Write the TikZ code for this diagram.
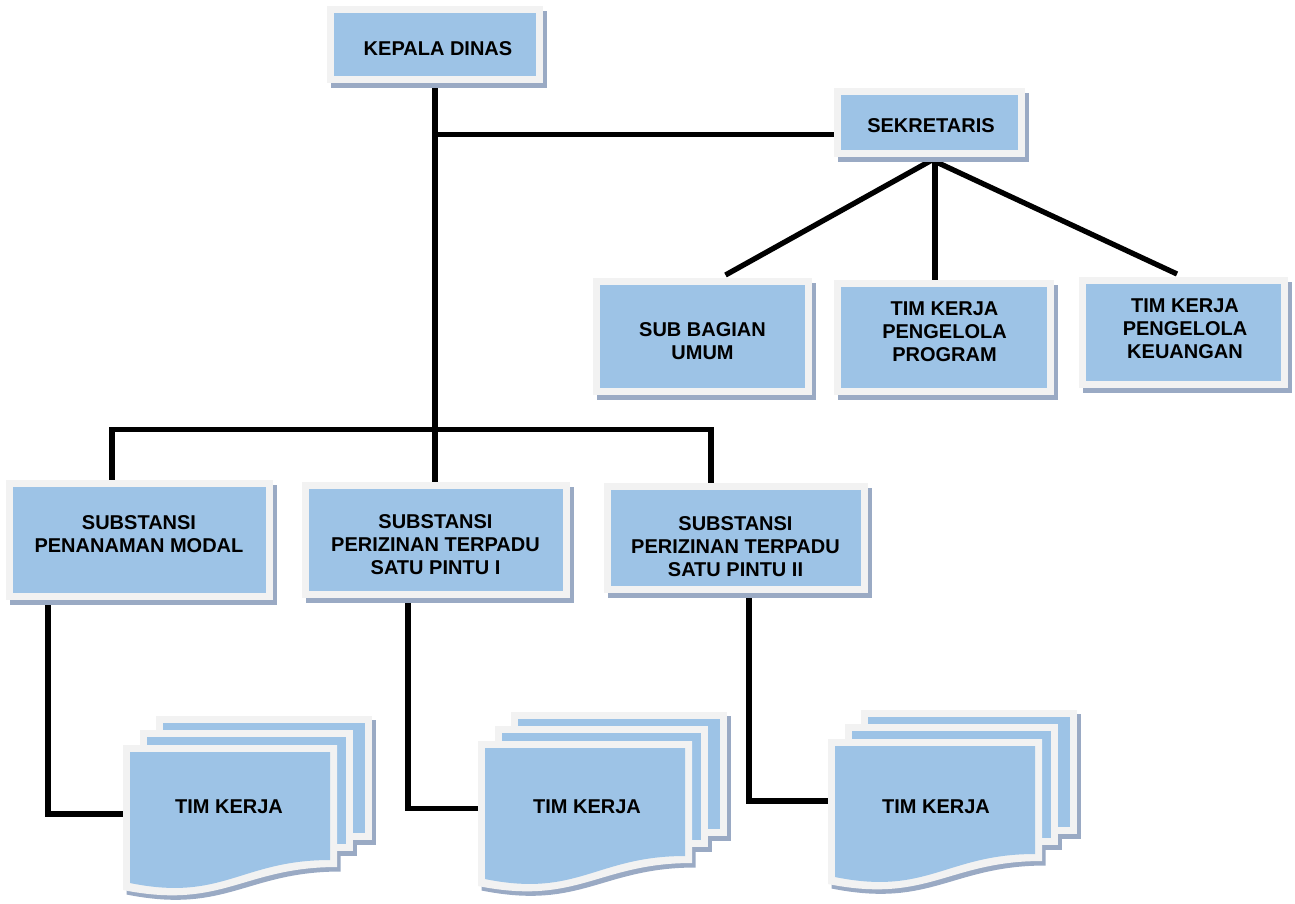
\documentclass[tikz,border=0pt]{standalone}
\usepackage{fontspec}
\setmainfont{Liberation Sans}
\usetikzlibrary{shadows}
\definecolor{bluefill}{HTML}{9DC3E6}
\definecolor{bordergray}{HTML}{F2F2F2}
\definecolor{shadowc}{HTML}{9AAAC4}
\pgfdeclarelayer{background}
\pgfsetlayers{background,main}
\newcommand\TimStack[2]{%
 \begin{scope}[shift={(#1,#2)}]
  \fill[shadowc] (36.5,-25) rectangle (252.5,99.5);
  \fill[shadowc] (20.5,-11) rectangle (233.5,110.5);
  \fill[shadowc] (3.5,4.5) -- (217.5,4.5) -- (217.5,126.5) .. controls (123.5,126.5) and (103.5,169.5) .. (3.5,149.5) -- cycle;
  \fill[bordergray] (33,-29) rectangle (249,95);
  \fill[bluefill] (40,-22) rectangle (242,88);
  \fill[bordergray] (17,-15) rectangle (230,106);
  \fill[bluefill] (24,-8) rectangle (223,99);
  \fill[bordergray] (0,0) -- (214,0) -- (214,122) .. controls (120,122) and (100,165) .. (0,145) -- cycle;
  \fill[bluefill] (7,7) -- (207,7) -- (207,115) .. controls (118,115) and (100,157) .. (7,138) -- cycle;
 \end{scope}}
\begin{document}
\begin{tikzpicture}[x=1pt,y=-1pt,
  box/.style={rectangle, inner sep=0pt, fill=bluefill,
     general shadow={shadow xshift=3.5pt, shadow yshift=-4.5pt, fill=shadowc, draw=shadowc, line width=14pt},
     preaction={draw=bordergray, line width=14pt}},
  txt/.style={font=\fontsize{20}{23}\selectfont\bfseries, align=center, inner sep=0pt, text=black},
  conn/.style={line width=5.3pt, black, line join=miter, line cap=butt}]
\useasboundingbox (0,0) rectangle (1295,903);

% boxes
\node[box, minimum width=202pt, minimum height=63pt] (kd) at (435,44.5) {};
\node[box, minimum width=177pt, minimum height=55pt] (sek) at (929.5,122.5) {};
\node[box, minimum width=205pt, minimum height=103pt] (sb) at (702.5,336.5) {};
\node[box, minimum width=206pt, minimum height=101pt] (pp) at (944,337.5) {};
\node[box, minimum width=195pt, minimum height=97pt] (pk) at (1183.5,332.5) {};
\node[box, minimum width=253pt, minimum height=106pt] (s1) at (139.5,540) {};
\node[box, minimum width=254pt, minimum height=102pt] (s2) at (436,540) {};
\node[box, minimum width=250pt, minimum height=96pt] (s3) at (736,538) {};

% multi-document stacks
\TimStack{123}{745}
\TimStack{478}{741}
\TimStack{828}{739}

% texts
\node[txt] (kd-t) at (438,48.8) {KEPALA DINAS};
\node[txt] (sek-t) at (931,126) {SEKRETARIS};
\node[txt] (sb-t) at (702.5,341.5) {SUB BAGIAN\\UMUM};
\node[txt] (pp-t) at (944.5,332) {TIM KERJA\\PENGELOLA\\PROGRAM};
\node[txt] (pk-t) at (1185,328.3) {TIM KERJA\\PENGELOLA\\KEUANGAN};
\node[txt] (s1-t) at (139,533.8) {SUBSTANSI\\PENANAMAN MODAL};
\node[txt] (s2-t) at (435.5,545) {SUBSTANSI\\PERIZINAN TERPADU\\SATU PINTU I};
\node[txt] (s3-t) at (735.5,547) {SUBSTANSI\\PERIZINAN TERPADU\\SATU PINTU II};
\node[txt] (tk1) at (229,806.7) {TIM KERJA};
\node[txt] (tk2) at (587,806.7) {TIM KERJA};
\node[txt] (tk3) at (936,807) {TIM KERJA};

% connection points
\coordinate (jn) at (932,160);
\coordinate (sb-in) at (725.5,275);
\coordinate (pk-in) at (1177,274);
\coordinate (tk1-in) at (150,814);
\coordinate (tk2-in) at (500,808.3);
\coordinate (tk3-in) at (850,801);

\begin{pgfonlayer}{background}
\draw[conn, line width=6pt] (kd.center -| 435,0) -- (s2.center -| 435,0);
\draw[conn] (435,134.5) -- (sek.center |- 0,134.5);
\draw[conn] (s1.center -| 112,0) -- (112,429.7) -- (711,429.7) -- (s3.center -| 711,0);
\draw[conn] (jn) -- (sb-in);
\draw[conn] (sek.center -| 935,0) -- (pp.center -| 935,0);
\draw[conn] (jn) -- (pk-in);
\draw[conn] (s1.center -| 48,0) |- (tk1-in);
\draw[conn] (s2.center -| 408,0) |- (tk2-in);
\draw[conn] (s3.center -| 749,0) |- (tk3-in);
\end{pgfonlayer}
\end{tikzpicture}
\end{document}
